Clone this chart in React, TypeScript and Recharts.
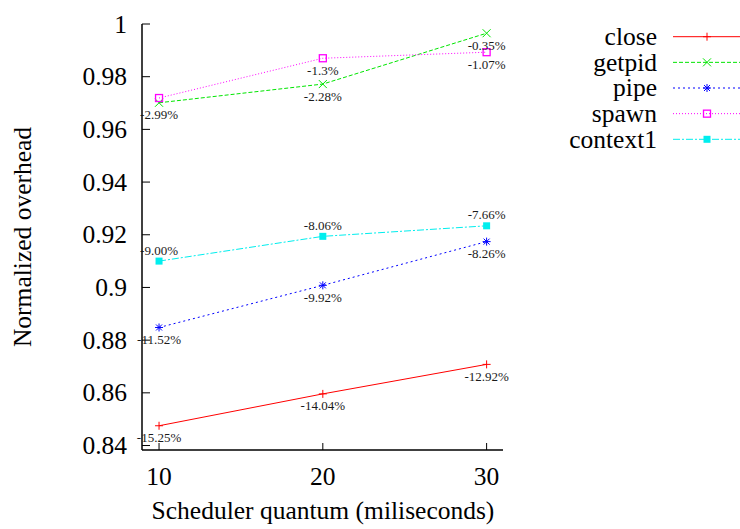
import { LineChart, Line, XAxis, YAxis, LabelList, Customized } from "recharts"

const quanta = [10, 20, 30]
const closeVals = [0.8475, 0.8596, 0.8708]
const getpidVals = [0.9701, 0.9772, 0.9965]
const pipeVals = [0.8848, 0.9008, 0.9174]
const spawnVals = [0.9719, 0.987, 0.9893]
const context1Vals = [0.91, 0.9194, 0.9234]

const closeLabels = ["-15.25%", "-14.04%", "-12.92%"]
const getpidLabels = ["-2.99%", "-2.28%", "-0.35%"]
const pipeLabels = ["-11.52%", "-9.92%", "-8.26%"]
const spawnLabels = ["", "-1.3%", "-1.07%"]
const context1Labels = ["-9.00%", "-8.06%", "-7.66%"]

const xTicks = [10, 20, 30]
const yTicks = [0.84, 0.86, 0.88, 0.9, 0.92, 0.94, 0.96, 0.98, 1]

const FONT = "Liberation Serif, serif"
const BIG = 25.5

const data = quanta.map((q, i) => ({
  q,
  close: closeVals[i],
  closeLbl: closeLabels[i],
  getpid: getpidVals[i],
  getpidLbl: getpidLabels[i],
  pipe: pipeVals[i],
  pipeLbl: pipeLabels[i],
  spawn: spawnVals[i],
  spawnLbl: spawnLabels[i],
  context1: context1Vals[i],
  context1Lbl: context1Labels[i],
}))

type Marker = "plus" | "cross" | "star" | "box" | "fbox"

const series: { key: string; color: string; dash?: string; marker: Marker; above?: boolean }[] = [
  { key: "close", color: "#ff0000", marker: "plus" },
  { key: "getpid", color: "#00e600", dash: "4 2", marker: "cross" },
  { key: "pipe", color: "#0000ff", dash: "2 3", marker: "star" },
  { key: "spawn", color: "#ff00ff", dash: "1 2", marker: "box" },
  { key: "context1", color: "#00eeee", dash: "7 2 2 2", marker: "fbox", above: true },
]

function markerShape(kind: Marker, x: number, y: number, color: string, k?: any) {
  const s = 4
  if (kind === "plus")
    return (
      <g key={k}>
        <line x1={x - s} y1={y} x2={x + s} y2={y} stroke={color} />
        <line x1={x} y1={y - s} x2={x} y2={y + s} stroke={color} />
      </g>
    )
  if (kind === "cross")
    return (
      <g key={k}>
        <line x1={x - s} y1={y - s} x2={x + s} y2={y + s} stroke={color} />
        <line x1={x - s} y1={y + s} x2={x + s} y2={y - s} stroke={color} />
      </g>
    )
  if (kind === "star")
    return (
      <g key={k}>
        <line x1={x - s} y1={y} x2={x + s} y2={y} stroke={color} />
        <line x1={x} y1={y - s} x2={x} y2={y + s} stroke={color} />
        <line x1={x - 3} y1={y - 3} x2={x + 3} y2={y + 3} stroke={color} />
        <line x1={x - 3} y1={y + 3} x2={x + 3} y2={y - 3} stroke={color} />
      </g>
    )
  if (kind === "box")
    return <rect key={k} x={x - 3.5} y={y - 3.5} width={7} height={7} fill="none" stroke={color} strokeWidth={1.3} />
  return <rect key={k} x={x - 3.5} y={y - 3.5} width={7} height={7} fill={color} />
}

const txt = { fontFamily: FONT }

const bottomTick = (p: any) => (
  <g>
    <line x1={p.x} y1={p.y} x2={p.x} y2={p.y - 7} stroke="#000" />
    <text x={p.x} y={p.y + 35} textAnchor="middle" style={txt} fontSize={BIG} fill="#000">
      {p.payload.value}
    </text>
  </g>
)
const topTick = (p: any) => <line x1={p.x} y1={p.y} x2={p.x} y2={p.y + 7} stroke="#000" />
const leftTick = (p: any) => (
  <g>
    <line x1={p.x} y1={p.y} x2={p.x + 8} y2={p.y} stroke="#000" />
    <text x={p.x - 15} y={p.y + 8.5} textAnchor="end" style={txt} fontSize={BIG} fill="#000">
      {String(Number(p.payload.value.toFixed(2)))}
    </text>
  </g>
)
const rightTick = (p: any) => <line x1={p.x} y1={p.y} x2={p.x - 8} y2={p.y} stroke="#000" />

const makeLabel = (above?: boolean) => (p: any) => {
  if (!p.value) return null
  return (
    <text
      x={p.x}
      y={above ? p.y - 11 : p.y + 12}
      textAnchor="middle"
      dominantBaseline="central"
      style={txt}
      fontSize={13}
      fill="#1a1a1a"
    >
      {p.value}
    </text>
  )
}

const Extras = () => (
  <g>
    <text transform="translate(31,237) rotate(-90)" textAnchor="middle" style={txt} fontSize={BIG} fill="#000">
      Normalized overhead
    </text>
    <text x={323} y={519} textAnchor="middle" style={txt} fontSize={BIG} fill="#000">
      Scheduler quantum (miliseconds)
    </text>
    {series.map((s, i) => {
      const y = 36.7 + i * 25.65
      return (
        <g key={s.key}>
          <text x={657} y={y + 8.3} textAnchor="end" style={txt} fontSize={BIG} fill="#000">
            {s.key}
          </text>
          <line x1={673} y1={y} x2={740} y2={y} stroke={s.color} strokeDasharray={s.dash} />
          {markerShape(s.marker, 707, y, s.color)}
        </g>
      )
    })}
  </g>
)

export default function App() {
  return (
    <div style={{ position: "absolute", left: 0, top: 0, background: "#fff" }}>
      <LineChart width={740} height={529} data={data} margin={{ top: 24, right: 237, left: 0, bottom: 0 }}>
        <XAxis
          xAxisId="b"
          dataKey="q"
          type="number"
          domain={[8.96, 31]}
          ticks={xTicks}
          interval={0}
          height={79}
          allowDataOverflow
          axisLine={{ stroke: "#000", strokeWidth: 1.5 }}
          tickLine={false}
          tickSize={0}
          tickMargin={0}
          tick={bottomTick}
        />
        <XAxis
          xAxisId="t"
          orientation="top"
          dataKey="q"
          type="number"
          domain={[8.96, 31]}
          ticks={xTicks}
          interval={0}
          height={0}
          allowDataOverflow
          axisLine={{ stroke: "#000", strokeWidth: 1.5 }}
          tickLine={false}
          tickSize={0}
          tickMargin={0}
          tick={topTick}
        />
        <YAxis
          yAxisId="l"
          type="number"
          domain={[0.8383, 1]}
          ticks={yTicks}
          interval={0}
          width={142}
          allowDataOverflow
          axisLine={{ stroke: "#000", strokeWidth: 1.5 }}
          tickLine={false}
          tickSize={0}
          tickMargin={0}
          tick={leftTick}
        />
        <YAxis
          yAxisId="r"
          orientation="right"
          type="number"
          domain={[0.8383, 1]}
          ticks={yTicks}
          interval={0}
          width={0}
          allowDataOverflow
          axisLine={{ stroke: "#000", strokeWidth: 1.5 }}
          tickLine={false}
          tickSize={0}
          tickMargin={0}
          tick={rightTick}
        />
        {series.map((s) => (
          <Line
            key={s.key}
            xAxisId="b"
            yAxisId="l"
            dataKey={s.key}
            type="linear"
            stroke={s.color}
            strokeWidth={1}
            strokeDasharray={s.dash}
            isAnimationActive={false}
            dot={(p: any) => markerShape(s.marker, p.cx, p.cy, s.color, `${s.key}-${p.index}`)}
            activeDot={false}
          >
            <LabelList dataKey={`${s.key}Lbl`} content={makeLabel(s.above)} />
          </Line>
        ))}
        <Customized component={Extras} />
      </LineChart>
    </div>
  )
}
